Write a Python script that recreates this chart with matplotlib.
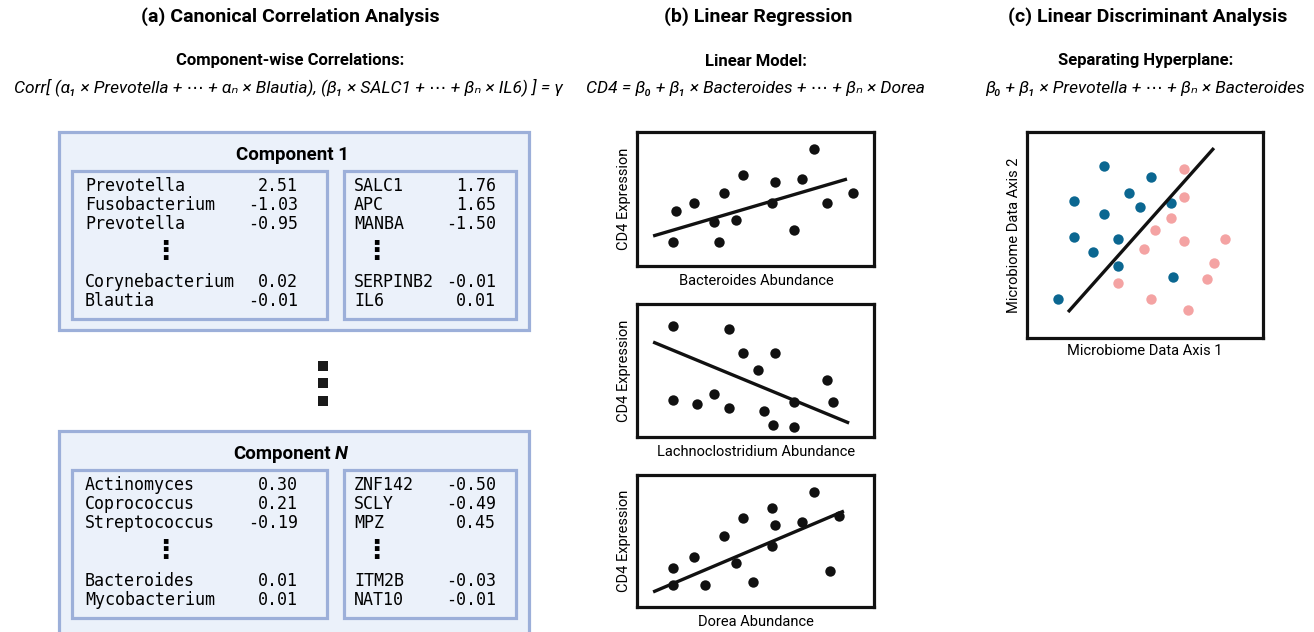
import matplotlib
matplotlib.use("Agg")
import matplotlib.pyplot as plt
from matplotlib.patches import Rectangle

# ---------------- data ----------------
comp1_left_names = ["Prevotella", "Fusobacterium", "Prevotella", "Corynebacterium", "Blautia"]
comp1_left_vals = ["2.51", "-1.03", "-0.95", "0.02", "-0.01"]
comp1_right_names = ["SALC1", "APC", "MANBA", "SERPINB2", "IL6"]
comp1_right_vals = ["1.76", "1.65", "-1.50", "-0.01", "0.01"]
compN_left_names = ["Actinomyces", "Coprococcus", "Streptococcus", "Bacteroides", "Mycobacterium"]
compN_left_vals = ["0.30", "0.21", "-0.19", "0.01", "0.01"]
compN_right_names = ["ZNF142", "SCLY", "MPZ", "ITM2B", "NAT10"]
compN_right_vals = ["-0.50", "-0.49", "0.45", "-0.03", "-0.01"]

# regression panel 1 (Bacteroides)
reg1_x = [1.65, 2.41, 1.52, 3.25, 3.46, 3.67, 4.18, 4.47, 5.70, 5.82, 6.62, 6.96, 7.47, 8.02, 9.11]
reg1_y = [4.10, 4.70, 1.79, 3.28, 1.79, 5.45, 3.43, 6.79, 4.70, 6.27, 2.69, 6.49, 8.73, 4.70, 5.45]
reg1_line_x = [0.68, 8.86]
reg1_line_y = [2.24, 6.49]
# regression panel 2 (Lachnoclostridium)
reg2_x = [1.52, 3.88, 4.47, 5.82, 5.11, 8.02, 1.52, 2.53, 3.25, 3.88, 5.36, 6.62, 8.27, 5.74, 6.62]
reg2_y = [8.35, 8.12, 6.32, 6.32, 5.04, 4.29, 2.78, 2.48, 3.23, 2.18, 1.95, 2.63, 2.63, 0.90, 0.75]
reg2_line_x = [0.68, 8.95]
reg2_line_y = [7.14, 1.05]
# regression panel 3 (Dorea)
reg3_x = [1.52, 1.52, 2.41, 2.87, 3.67, 4.18, 4.47, 4.89, 5.70, 5.82, 5.70, 6.96, 7.47, 8.14, 8.52]
reg3_y = [2.95, 1.67, 3.79, 1.67, 5.38, 3.33, 6.74, 1.89, 7.50, 6.21, 4.62, 6.44, 8.71, 2.73, 6.89]
reg3_line_x = [0.68, 8.73]
reg3_line_y = [1.14, 7.27]
reg_xlabels = ["Bacteroides Abundance", "Lachnoclostridium Abundance", "Dorea Abundance"]

# LDA panel
lda_blue_x = [3.26, 5.25, 1.99, 4.32, 4.79, 3.26, 6.10, 1.99, 3.86, 2.80, 3.86, 6.19, 1.31]
lda_blue_y = [8.35, 7.82, 6.65, 7.04, 6.36, 6.02, 6.55, 4.90, 4.81, 4.17, 3.50, 2.96, 1.89]
lda_pink_x = [6.65, 6.65, 6.10, 5.42, 6.65, 8.39, 4.96, 7.92, 7.63, 3.86, 5.25, 6.82]
lda_pink_y = [8.20, 6.84, 5.83, 5.24, 4.71, 4.81, 4.32, 3.64, 2.86, 2.67, 1.89, 1.36]
lda_line_x = [1.74, 7.92]
lda_line_y = [1.26, 9.22]

# ---------------- style ----------------
W, H = 1314, 632
SANS = ["Roboto", "DejaVu Sans"]
MONO = ["DejaVu Sans Mono"]
BOX_FILL = "#ebf1fa"
BOX_EDGE = "#9cafd9"
BLUE = "#0b6791"
PINK = "#f4a3a3"
TITLE_FS = 14
SUB_FS = 12
FORM_FS = 12.5
LAB_FS = 10.5

fig = plt.figure(figsize=(W / 100, H / 100), dpi=100)
fig.patch.set_facecolor("white")
ov = fig.add_axes([0, 0, 1, 1])
ov.set_xlim(0, W)
ov.set_ylim(H, 0)
ov.axis("off")

# ---------------- titles ----------------
ov.text(290, 17, "(a) Canonical Correlation Analysis", ha="center", va="center",
        family=SANS, weight="bold", fontsize=TITLE_FS)
ov.text(758, 17, "(b) Linear Regression", ha="center", va="center",
        family=SANS, weight="bold", fontsize=TITLE_FS)
ov.text(1148, 17, "(c) Linear Discriminant Analysis", ha="center", va="center",
        family=SANS, weight="bold", fontsize=TITLE_FS)

ov.text(290, 61, "Component-wise Correlations:", ha="center", va="center",
        family=SANS, weight="bold", fontsize=SUB_FS)
ov.text(756, 61, "Linear Model:", ha="center", va="center",
        family=SANS, weight="bold", fontsize=SUB_FS)
ov.text(1146, 61, "Separating Hyperplane:", ha="center", va="center",
        family=SANS, weight="bold", fontsize=SUB_FS)

ov.text(288, 87, "Corr[ (α₁ × Prevotella + ⋯ + αₙ × Blautia), (β₁ × SALC1 + ⋯ + βₙ × IL6) ] = γ",
        ha="center", va="center", family=SANS, style="italic", fontsize=FORM_FS)
ov.text(755, 88, "CD4 = β₀ + β₁ × Bacteroides + ⋯ + βₙ × Dorea",
        ha="center", va="center", family=SANS, style="italic", fontsize=FORM_FS)
ov.text(1145, 88, "β₀ + β₁ × Prevotella + ⋯ + βₙ × Bacteroides",
        ha="center", va="center", family=SANS, style="italic", fontsize=FORM_FS)


# ---------------- CCA component boxes ----------------
def rect(x0, y0, x1, y1):
    ov.add_patch(Rectangle((x0, y0), x1 - x0, y1 - y0, facecolor=BOX_FILL,
                           edgecolor=BOX_EDGE, linewidth=2.3))


def component(top, names_l, vals_l, names_r, vals_r, bottom):
    rect(59, top, 529, bottom)
    it0 = top + 39
    rect(72, it0, 327, it0 + 148)
    rect(344, it0, 516, it0 + 148)
    rows = [it0 + 15, it0 + 34, it0 + 53, it0 + 111, it0 + 130]
    for y, n, v in zip(rows, names_l, vals_l):
        ov.text(85, y, n, ha="left", va="center", family=MONO, fontsize=12)
        ov.text(298, y, v, ha="right", va="center", family=MONO, fontsize=12)
    for y, n, v in zip(rows, names_r, vals_r):
        ov.text(354, y, n, ha="left", va="center", family=MONO, fontsize=12)
        ov.text(496, y, v, ha="right", va="center", family=MONO, fontsize=12)
    for xd in (165, 376):
        ov.text(xd, it0 + 81, "⋮", ha="center", va="center", family=["DejaVu Sans"],
                fontsize=19, weight="bold")


component(132, comp1_left_names, comp1_left_vals, comp1_right_names, comp1_right_vals, 330)
ov.text(292, 160, "Component 1", ha="center", va="baseline", family=SANS,
        weight="bold", fontsize=13.5)
component(431, compN_left_names, compN_left_vals, compN_right_names, compN_right_vals, 700)
ov.text(331, 459, "Component", ha="right", va="baseline", family=SANS,
        weight="bold", fontsize=13.5)
ov.text(335, 459, "N", ha="left", va="baseline", family=SANS,
        weight="bold", style="italic", fontsize=13.5)

# vertical squares between components
ov.scatter([323, 323, 323], [366, 383, 401], marker="s", s=52, color="#1a1a1a",
           linewidths=0)


# ---------------- scatter axes ----------------
def make_ax(x0, y0, x1, y1):
    ax = fig.add_axes([x0 / W, 1 - y1 / H, (x1 - x0) / W, (y1 - y0) / H])
    ax.set_xlim(0, 10)
    ax.set_ylim(0, 10)
    ax.set_xticks([])
    ax.set_yticks([])
    for s in ax.spines.values():
        s.set_linewidth(2.3)
        s.set_color("#111111")
    return ax


reg_boxes = [(132, 266), (304, 437), (475, 607)]
reg_data = [(reg1_x, reg1_y, reg1_line_x, reg1_line_y),
            (reg2_x, reg2_y, reg2_line_x, reg2_line_y),
            (reg3_x, reg3_y, reg3_line_x, reg3_line_y)]
for (y0, y1), (px, py, lx, ly), xl in zip(reg_boxes, reg_data, reg_xlabels):
    ax = make_ax(637, y0, 874, y1)
    ax.scatter(px, py, s=56, color="#111111", linewidths=0, zorder=2)
    ax.plot(lx, ly, color="#111111", linewidth=2.4, solid_capstyle="butt", zorder=3)
    ov.text(756, y1 + 15, xl, ha="center", va="center", family=SANS, fontsize=LAB_FS)
    ov.text(624, (y0 + y1) / 2, "CD4 Expression", ha="center", va="center",
            rotation=90, family=SANS, fontsize=LAB_FS)

ax = make_ax(1027, 132, 1263, 338)
ax.scatter(lda_blue_x, lda_blue_y, s=56, color=BLUE, linewidths=0, zorder=2)
ax.scatter(lda_pink_x, lda_pink_y, s=56, color=PINK, linewidths=0, zorder=2)
ax.plot(lda_line_x, lda_line_y, color="#111111", linewidth=2.4, solid_capstyle="butt", zorder=3)
ov.text(1145, 351, "Microbiome Data Axis 1", ha="center", va="center", family=SANS,
        fontsize=LAB_FS)
ov.text(1014, 235, "Microbiome Data Axis 2", ha="center", va="center", rotation=90,
        family=SANS, fontsize=LAB_FS)

fig.savefig("out.png", dpi=100, facecolor="white")
